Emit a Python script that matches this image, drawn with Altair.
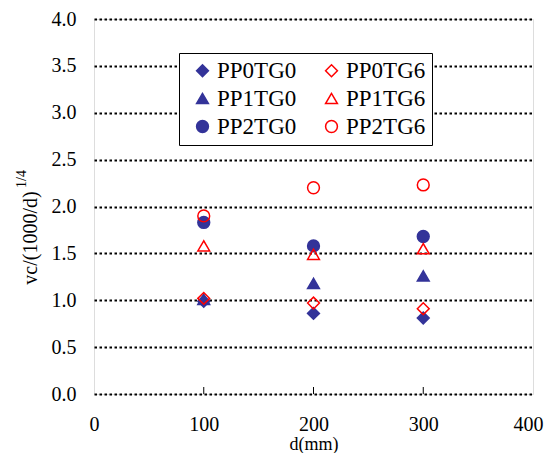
import altair as alt
import pandas as pd

d_mm = [100, 200, 300]
series_names = ["PP0TG0", "PP1TG0", "PP2TG0", "PP0TG6", "PP1TG6", "PP2TG6"]
PP0TG0 = [0.99, 0.86, 0.81]
PP0TG6 = [1.02, 0.97, 0.91]
PP1TG0 = [1.01, 1.18, 1.26]
PP1TG6 = [1.58, 1.49, 1.55]
PP2TG0 = [1.83, 1.58, 1.68]
PP2TG6 = [1.90, 2.20, 2.23]
x_ticks = [0, 100, 200, 300, 400]
y_ticks = [0.0, 0.5, 1.0, 1.5, 2.0, 2.5, 3.0, 3.5, 4.0]
inner_ticks = [100, 200, 300]

values = [PP0TG0, PP1TG0, PP2TG0, PP0TG6, PP1TG6, PP2TG6]
rows = []
for name, vals in zip(series_names, values):
    for d, v in zip(d_mm, vals):
        rows.append({"series": name, "d": d, "v": v})
df = pd.DataFrame(rows)

NAVY = "#333399"
RED = "#FF0000"
FONT = "Liberation Serif"

shape_range = ["diamond", "triangle-up", "circle", "diamond", "triangle-up", "circle"]
fill_range = [NAVY, NAVY, NAVY, "transparent", "transparent", "transparent"]
stroke_range = [NAVY, NAVY, NAVY, RED, RED, RED]

legend = alt.Legend(
    title=None, orient="none", legendX=85, legendY=34, columns=2,
    padding=6, symbolOffset=6, labelOffset=3, columnPadding=17, rowPadding=4,
    labelFont=FONT, labelFontSize=23, labelColor="black",
    strokeColor="black", fillColor="white", symbolSize=140, symbolStrokeWidth=1.5,
)

x_scale = alt.Scale(domain=[0, 400], nice=False)
y_scale = alt.Scale(domain=[0, 4], nice=False)

points = alt.Chart(df).mark_point(size=140, strokeWidth=1.5, opacity=1).encode(
    x=alt.X("d:Q", scale=x_scale, axis=alt.Axis(
        values=x_ticks, title="d(mm)", labelFont=FONT, labelFontSize=20, labelColor="black",
        titleFont=FONT, titleFontSize=18, titleFontWeight="normal", titleColor="black",
        titleBaseline="alphabetic", titleY=55,
        ticks=False, tickSize=0, domain=False, grid=False, labelPadding=20,
        labelFlush=False,
        labelOffset={"condition": {"test": "datum.value === 400", "value": -5}, "value": 0})),
    y=alt.Y("v:Q", scale=y_scale, axis=alt.Axis(
        values=y_ticks, format=".1f", title=None, labelFont=FONT, labelFontSize=20,
        labelColor="black", ticks=False, tickSize=0, domain=False, grid=True,
        gridColor="black", gridWidth=2, gridDash=[2.5, 2.5], gridOpacity=1,
        labelPadding=18, labelFlush=False)),
    shape=alt.Shape("series:N", scale=alt.Scale(domain=series_names, range=shape_range), legend=legend),
    fill=alt.Fill("series:N", scale=alt.Scale(domain=series_names, range=fill_range), legend=legend),
    stroke=alt.Stroke("series:N", scale=alt.Scale(domain=series_names, range=stroke_range), legend=legend),
)

tick_df = pd.DataFrame({"t": inner_ticks})
ticks = alt.Chart(tick_df).mark_rule(color="black", strokeWidth=1).encode(
    x=alt.X("t:Q", scale=x_scale),
    y=alt.value(375), y2=alt.value(368),
)

title_df = pd.DataFrame({"a": [0]})
ytitle = alt.Chart(title_df).mark_text(
    text="vc/(1000/d)", angle=270, font=FONT, fontSize=20, color="black",
    align="center", baseline="middle",
).encode(x=alt.value(-63), y=alt.value(219))
ysup = alt.Chart(title_df).mark_text(
    text="1/4", angle=270, font=FONT, fontSize=14, color="black",
    align="center", baseline="middle",
).encode(x=alt.value(-72), y=alt.value(160))

chart = alt.layer(ticks, points, ytitle, ysup).properties(
    width=439, height=375,
    autosize=alt.AutoSizeParams(type="none"),
    padding={"left": 86, "top": 11, "right": 12, "bottom": 59},
).configure_view(stroke="black", strokeWidth=2).configure(background="white", font=FONT)

chart.save("out.html", embed_options={"renderer": "svg", "actions": False})
